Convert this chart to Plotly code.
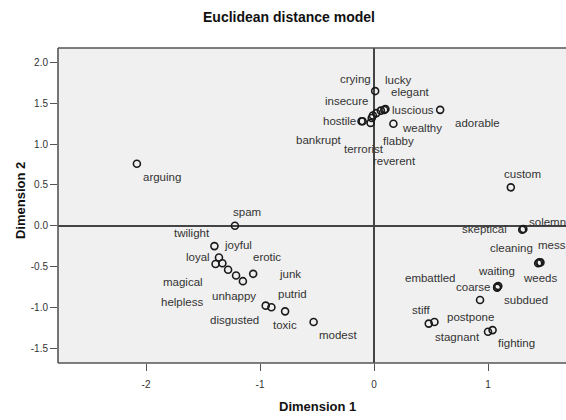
import plotly.graph_objects as go

# ---- data: MDS stimulus coordinates (Dimension 1, Dimension 2) ----
words = ["crying", "lucky", "elegant", "luscious", "insecure", "flabby", "reverent",
         "hostile", "bankrupt", "terrorist", "adorable", "wealthy",
         "arguing", "spam", "joyful", "twilight", "loyal", "magical", "helpless",
         "unhappy", "erotic", "junk", "disgusted", "putrid", "toxic", "modest",
         "custom", "skeptical", "solemn", "cleaning", "mess", "weeds", "waiting",
         "coarse", "embattled", "subdued", "stiff", "stagnant", "postpone", "fighting"]
dim1 = [0.01, 0.06, 0.10, 0.09, 0.02, -0.01, -0.02,
        -0.11, -0.10, -0.03, 0.58, 0.17,
        -2.08, -1.22, -1.40, -1.36, -1.39, -1.33, -1.28,
        -1.21, -1.15, -1.06, -0.95, -0.90, -0.78, -0.53,
        1.20, 1.30, 1.31, 1.44, 1.45, 1.46, 1.08,
        1.09, 1.08, 0.93, 0.48, 0.53, 1.00, 1.04]
dim2 = [1.65, 1.41, 1.43, 1.42, 1.38, 1.35, 1.32,
        1.28, 1.28, 1.26, 1.42, 1.25,
        0.76, 0.00, -0.25, -0.39, -0.47, -0.46, -0.54,
        -0.61, -0.68, -0.59, -0.98, -1.00, -1.05, -1.18,
        0.47, -0.05, -0.04, -0.46, -0.45, -0.45, -0.75,
        -0.74, -0.76, -0.91, -1.20, -1.18, -1.30, -1.28]

x_ticks = [-2, -1, 0, 1]
y_ticks = [-1.5, -1.0, -0.5, 0.0, 0.5, 1.0, 1.5, 2.0]

# ---- style: label offsets in screen pixels (dx right, dy down) ----
label_offsets = [(-20, -12), (17, -31), (25, -17), (29, 0), (-30, -12), (26, 25), (23, 43),
                 (-22, 0), (-44, 19), (-7, 26), (37, 13), (29, 4),
                 (25, 13), (12, -14), (24, -1), (-27, -25), (-18, -7), (-39, 19), (-46, 32),
                 (-2, 21), (24, -24), (37, 0), (-31, 14), (21, -13), (0, 14), (25, 13),
                 (12, -13), (-38, -1), (24, -7), (-27, -15), (13, -17), (0, 16), (-1, -16),
                 (-25, 1), (-67, -10), (46, 0), (-8, -14), (23, 15), (-18, -15), (24, 13)]

TXT = "#333333"
FONT = "Liberation Sans, Arial, sans-serif"

fig = go.Figure()
fig.add_trace(go.Scatter(
    x=dim1, y=dim2, mode="markers",
    marker=dict(symbol="circle-open", size=7, color="#1a1a1a", line=dict(width=1.6)),
    hovertext=words, hoverinfo="text", showlegend=False, cliponaxis=False,
))

annotations = []
for w, xv, yv, (dx, dy) in zip(words, dim1, dim2, label_offsets):
    annotations.append(dict(
        x=xv, y=yv, xref="x", yref="y", text=w, showarrow=False,
        xshift=dx, yshift=-dy, xanchor="center", yanchor="middle",
        font=dict(family=FONT, size=11.5, color=TXT),
    ))

annotations += [
    dict(text="<b>Euclidean distance model</b>", xref="paper", yref="paper",
         x=0.455, y=1.098, showarrow=False, xanchor="center", yanchor="middle",
         font=dict(family=FONT, size=14, color="#111")),
    dict(text="<b>Dimension 1</b>", xref="paper", yref="paper",
         x=0.51, y=-0.137, showarrow=False, xanchor="center", yanchor="middle",
         font=dict(family=FONT, size=13, color="#111")),
    dict(text="<b>Dimension 2</b>", xref="paper", yref="paper",
         x=-0.075, y=0.517, showarrow=False, xanchor="center", yanchor="middle",
         textangle=-90, font=dict(family=FONT, size=13, color="#111")),
]

frame = dict(color="#555555", width=1.6)
shapes = [
    dict(type="line", xref="paper", yref="paper", x0=0, x1=0, y0=0, y1=1, line=frame, layer="above"),
    dict(type="line", xref="paper", yref="paper", x0=0, x1=1.05, y0=1, y1=1, line=frame, layer="above"),
    dict(type="line", xref="paper", yref="paper", x0=0, x1=1.05, y0=0, y1=0, line=frame, layer="above"),
]

fig.update_layout(
    width=566, height=420,
    margin=dict(l=58, r=0, t=48, b=57),
    paper_bgcolor="white", plot_bgcolor="#f0f0f0",
    annotations=annotations, shapes=shapes,
    font=dict(family=FONT, color=TXT),
)
fig.update_xaxes(
    range=[-2.772, 1.684], tickvals=x_ticks, ticktext=[str(v) for v in x_ticks],
    showgrid=False, zeroline=True, zerolinecolor="#444444", zerolinewidth=1.6,
    ticks="outside", ticklen=7, tickwidth=1.2, tickcolor="#555555",
    tickfont=dict(size=10, color=TXT), showline=False, ticklabelstandoff=5,
)
fig.update_yaxes(
    range=[-1.683, 2.178], tickvals=y_ticks, ticktext=[f"{v:.1f}" for v in y_ticks],
    showgrid=False, zeroline=True, zerolinecolor="#444444", zerolinewidth=1.6,
    ticks="outside", ticklen=7, tickwidth=1.2, tickcolor="#555555",
    tickfont=dict(size=10, color=TXT), showline=False,
)

fig.write_html("out.html")
